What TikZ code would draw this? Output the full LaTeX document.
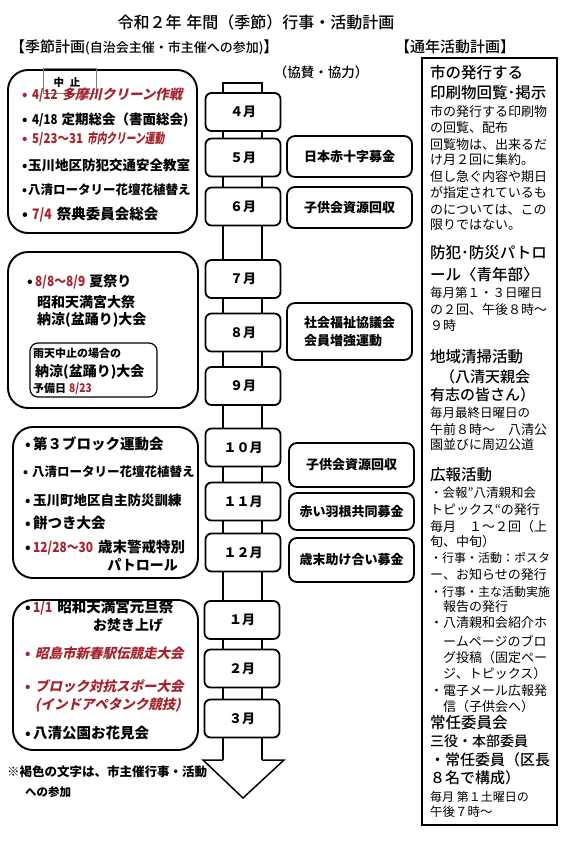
\documentclass[tikz,border=0pt]{standalone}
\usepackage{graphicx}
\usepackage{fontspec}
\setmainfont{Noto Sans CJK JP}
\newfontfamily\jpm{Noto Sans CJK JP Medium}
\newfontfamily\jpsl{Noto Sans CJK JP}[FakeSlant=0.22]
\definecolor{brn}{RGB}{165,35,45}
\newcommand\fs[1]{\fontsize{#1}{#1}\selectfont}
\newcommand\nd[1]{\scalebox{0.85}[1]{#1}}
\tikzset{
  lt/.style={anchor=west, inner sep=0pt, font=\bfseries\fs{14}},
  rt/.style={anchor=west, inner sep=0pt},
  mbox/.style={draw, fill=white, line width=1.8pt, rounded corners=6pt, minimum width=75pt, minimum height=38pt, font=\bfseries\fs{13}, inner sep=0pt},
  kbox/.style={draw, fill=white, line width=1.8pt, rounded corners=8pt, minimum width=125pt, font=\bfseries\fs{13}, inner sep=0pt},
  lbox/.style={draw, line width=1.9pt, rounded corners=20pt, inner sep=0pt},
  shaft/.style={line width=1.5pt},
}
\begin{document}
\begin{tikzpicture}[x=1pt,y=-1pt]
\fill[white] (0,0) rectangle (570,841);
\useasboundingbox (0,0) rectangle (570,841);

% titles
\node[font=\jpm\fs{16}] (title) at (256,22) {令和２年\hspace{5pt}年間（季節）行事・活動計画};
\node[rt, font=\jpm\fs{15}] (subl) at (10,47) {【季節計画{\fs{13}(自治会主催・市主催への参加)}】};
\node[rt, font=\jpm\fs{15}] (subr) at (395,47) {【通年活動計画】};
\node[font=\jpm\fs{13.5}] (kyo) at (321,72) {（協賛・協力）};

% central band and arrow
\draw[shaft] (223,760) -- (223,83) -- (262,83) -- (262,760);
\draw[shaft, line join=miter] (223,760) -- (203,760) -- (243,798) -- (284,760) -- (262,760);

% month boxes
\node[mbox] (m4) at (243,112) {４月};
\node[mbox] (m5) at (243,157.5) {５月};
\node[mbox] (m6) at (243,206.5) {６月};
\node[mbox] (m7) at (243,279) {７月};
\node[mbox] (m8) at (243,332.5) {８月};
\node[mbox] (m9) at (243,386) {９月};
\node[mbox] (m10) at (243,447.5) {１０月};
\node[mbox] (m11) at (243,501.5) {１１月};
\node[mbox] (m12) at (243,552.5) {１２月};
\node[mbox] (m1) at (242,620) {１月};
\node[mbox] (m2) at (242,668.5) {２月};
\node[mbox] (m3) at (242,718.5) {３月};

% support boxes
\node[kbox, minimum height=41pt] (k1) at (349.5,156.5) {日本赤十字募金};
\node[kbox, minimum height=41pt] (k2) at (349.5,207.5) {子供会資源回収};
\node[kbox, minimum height=57pt, align=left, font=\bfseries\fontsize{13}{18}\selectfont] (k3) at (349.5,331.5) {社会福祉協議会\\会員増強運動};
\node[kbox, minimum height=44pt] (k4) at (351.5,465) {子供会資源回収};
\node[kbox, minimum height=37pt] (k5) at (351.5,511.5) {赤い羽根共同募金};
\node[kbox, minimum height=44pt] (k6) at (351.5,560) {歳末助け合い募金};

% left boxes
\node[lbox, minimum width=189pt, minimum height=163pt] (b1) at (102.5,151.5) {};
\node[lbox, minimum width=190pt, minimum height=156pt] (b2) at (103,330) {};
\node[lbox, minimum width=127pt, minimum height=54pt, rounded corners=8pt, line width=1.2pt] (b2i) at (93.5,370) {};
\node[lbox, minimum width=185pt, minimum height=151pt] (b3) at (105.5,502.5) {};
\node[lbox, minimum width=185pt, minimum height=150pt] (b4) at (105.5,675) {};

% cancelled tag
\draw[line width=0.6pt, gray] (43,68) rectangle (96,93);
\node[font=\bfseries\fs{10.5}] (chushi) at (67,83) {中\hspace{6pt}止};

% box 1 texts
\node[lt] (a1) at (22,95) {\fs{13.5}\textcolor{brn}{\makebox[10pt][l]{•}\nd{4/12}\hspace{4pt}{\jpsl\bfseries 多摩川クリーン作戦}}};
\node[lt] (a2) at (22,120) {\fs{13.5}\makebox[10pt][l]{•}\nd{4/18}\hspace{4pt}定期総会（書面総会)};
\node[lt] (a3) at (22,139) {\fs{13.5}\textcolor{brn}{\makebox[10pt][l]{•}\nd{5/23～31}\hspace{4pt}{\jpsl\bfseries\scalebox{0.72}[1]{市内クリーン運動}}}};
\node[lt] (a4) at (22,165) {\fs{13.5}\makebox[6pt][l]{•}玉川地区防犯交通安全教室};
\node[lt] (a5) at (22,190) {\fs{12.5}\makebox[6pt][l]{•}八清ロータリー花壇花植替え};
\node[lt] (a6) at (22,215) {\fs{14.5}\makebox[10pt][l]{•}\textcolor{brn}{\nd{7/4}}\hspace{5pt}祭典委員会総会};

% box 2 texts
\node[lt] (c21) at (27,282) {\makebox[8pt][l]{•}\textcolor{brn}{\nd{8/8～8/9}}\hspace{4pt}夏祭り};
\node[lt] (c22) at (37,302) {昭和天満宮大祭};
\node[lt] (c23) at (37,320) {納涼(盆踊り)大会};
\node[lt] (c24) at (33,353) {\fs{11}雨天中止の場合の};
\node[lt] (c25) at (35,372) {納涼(盆踊り)大会};
\node[lt] (c26) at (33,389) {\fs{11}予備日\hspace{3pt}\textcolor{brn}{\fs{12}\nd{8/23}}};

% box 3 texts
\node[lt] (c31) at (25,444) {\makebox[8pt][l]{•}{\fs{14.5}第３ブロック運動会}};
\node[lt] (c32) at (23,472) {\fs{12.5}\makebox[9pt][l]{•}八清ロータリー花壇花植替え};
\node[lt] (c33) at (25,500) {\fs{13.5}\makebox[8pt][l]{•}玉川町地区自主防災訓練};
\node[lt] (c34) at (25,523) {\makebox[8pt][l]{•}{\fs{14.5}餅つき大会}};
\node[lt] (c35) at (25,548) {\makebox[8pt][l]{•}\textcolor{brn}{\nd{12/28～30}}\hspace{5pt}{\fs{14.5}歳末警戒特別}};
\node[lt, anchor=east] (c36) at (178,565) {パトロール};

% box 4 texts
\node[lt] (c41) at (25,608) {\makebox[8pt][l]{•}\textcolor{brn}{\nd{1/1}}\hspace{5pt}{\fs{14.5}昭和天満宮元旦祭}};
\node[lt] (c42) at (93,625) {お焚き上げ};
\node[lt] (c43) at (25,653) {\fs{13.5}\textcolor{brn}{\makebox[10pt][l]{•}{\jpsl\bfseries 昭島市新春駅伝競走大会}}};
\node[lt] (c44) at (25,686) {\fs{13.5}\textcolor{brn}{\makebox[10pt][l]{•}{\jpsl\bfseries ブロック対抗スポー大会}}};
\node[lt] (c45) at (35,705) {\fs{13.5}\textcolor{brn}{\jpsl\bfseries (インドアペタンク競技)}};
\node[lt] (c46) at (25,733) {\makebox[8pt][l]{•}{\fs{14.5}八清公園お花見会}};

% note
\node[lt] (n1) at (7,772) {\fs{12.5}※褐色の文字は、市主催行事・活動};
\node[lt] (n2) at (25,792) {\fs{11.5}への参加};

% right panel
\node[draw, line width=2.4pt, minimum width=135pt, minimum height=767pt, inner sep=0pt] (rp) at (489.5,441.5) {};
\foreach \x/\y/\s/\t [count=\i] in {
  430/73/15.5/{市の発行する},
  430/93/15.5/{印刷物回覧･掲示},
  430/253/15.5/{防犯･防災パトロ},
  430/275/15.5/{ール〈青年部〉},
  430/357/15.5/{地域清掃活動},
  440/377/15/{（八清天親会},
  430/395/15/{有志の皆さん）},
  430/475/15.5/{広報活動},
  430/723/15.5/{常任委員会},
  430/741/14/{三役・本部委員},
  430/760/15/{・常任委員（区長},
  430/778/15/{８名で構成）}}
  \node[rt, font=\jpm\fs{\s}] (rh\i) at (\x,\y) {\t};
\foreach \x/\y/\s/\t [count=\i] in {
  430/112/13/{市の発行する印刷物},
  430/128/13/{の回覧、配布},
  430/145/13/{回覧物は、出来るだ},
  430/160/13/{け月２回に集約。},
  430/177/13/{但し急ぐ内容や期日},
  430/193/13/{が指定されているも},
  430/210/13/{のについては、この},
  430/225/13/{限りではない。},
  430/293/12.5/{毎月第１・３日曜日},
  430/310/13/{の２回、午後８時～},
  430/326/13/{９時},
  430/413/12.5/{毎月最終日曜日の},
  430/430/13/{午前８時～　八清公},
  430/445/13/{園並びに周辺公道},
  430/493/12.5/{・会報”八清親和会},
  430/510/13/{トピックス“の発行},
  430/527/13/{毎月　１～２回（上},
  430/542/13/{旬、中旬）},
  430/558/12/{・行事・活動：ポスタ},
  430/575/13/{ー、お知らせの発行},
  430/592/12/{・行事・主な活動実施},
  443/607/13/{報告の発行},
  430/623/13/{・八清親和会紹介ホ},
  443/641/13/{ームページのブロ},
  443/658/13/{グ投稿（固定ペー},
  443/674/13/{ジ、トピックス）},
  430/691/13/{・電子メール広報発},
  443/707/13/{信（子供会へ）},
  430/797/12/{毎月 第１土曜日の},
  430/812/12.5/{午後７時～}}
  \node[rt, font=\fs{\s}] (rs\i) at (\x,\y) {\t};
\end{tikzpicture}
\end{document}
